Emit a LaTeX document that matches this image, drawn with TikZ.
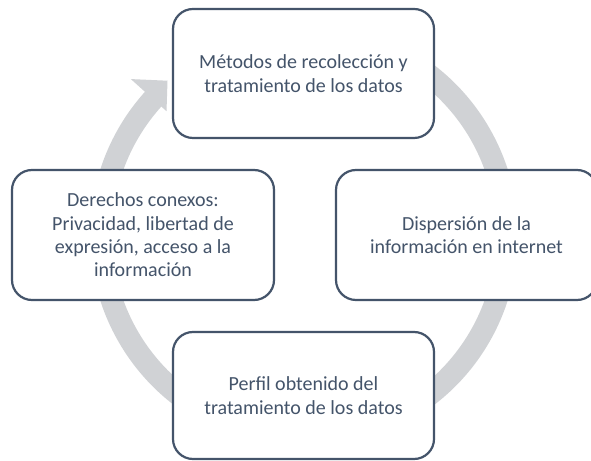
\documentclass[tikz,border=0pt]{standalone}
\usepackage{fontspec}
\setmainfont{Carlito}
\usetikzlibrary{calc}
\definecolor{slate}{HTML}{44546A}
\definecolor{ringgray}{HTML}{D0D2D5}
\tikzset{
  cyclebox/.style={draw=slate, line width=2.2pt, fill=white, rounded corners=20pt,
    align=center, text=slate, font=\fontsize{20}{23.4}\selectfont, inner sep=0pt},
  ringfill/.style={fill=ringgray}
}
\begin{document}
\begin{tikzpicture}[x=1pt,y=1pt]
\useasboundingbox (0,0) rectangle (591,460);
\clip (0,0) rectangle (591,460);
\fill[white] (0,0) rectangle (591,460);
\coordinate (c) at (304,225);
% circular arrow shaft
\fill[ringfill] ($(c)+(120:214)$) arc[start angle=120, end angle=-222.5, radius=214]
  -- ($(c)+(137.5:192)$) arc[start angle=137.5, end angle=480, radius=192] -- cycle;
% arrow head
\fill[ringfill] ($(c)+(138:233)$) -- ($(c)+(131.5:206)$) -- ($(c)+(138:185)$) -- cycle;
% boxes
\node[cyclebox, minimum width=261pt, minimum height=129pt] (top) at (303.5,386.5)
  {Métodos de recolección y\\tratamiento de los datos};
\node[cyclebox, minimum width=261pt, minimum height=130pt] (right) at (466.5,225)
  {Dispersión de la\\información en internet};
\node[cyclebox, minimum width=261pt, minimum height=127pt] (bottom) at (303.5,64.5)
  {Perfil obtenido del\\tratamiento de los datos};
\node[cyclebox, minimum width=262pt, minimum height=130pt] (left) at (143,225)
  {Derechos conexos:\\Privacidad, libertad de\\expresión, acceso a la\\información};
\end{tikzpicture}
\end{document}
